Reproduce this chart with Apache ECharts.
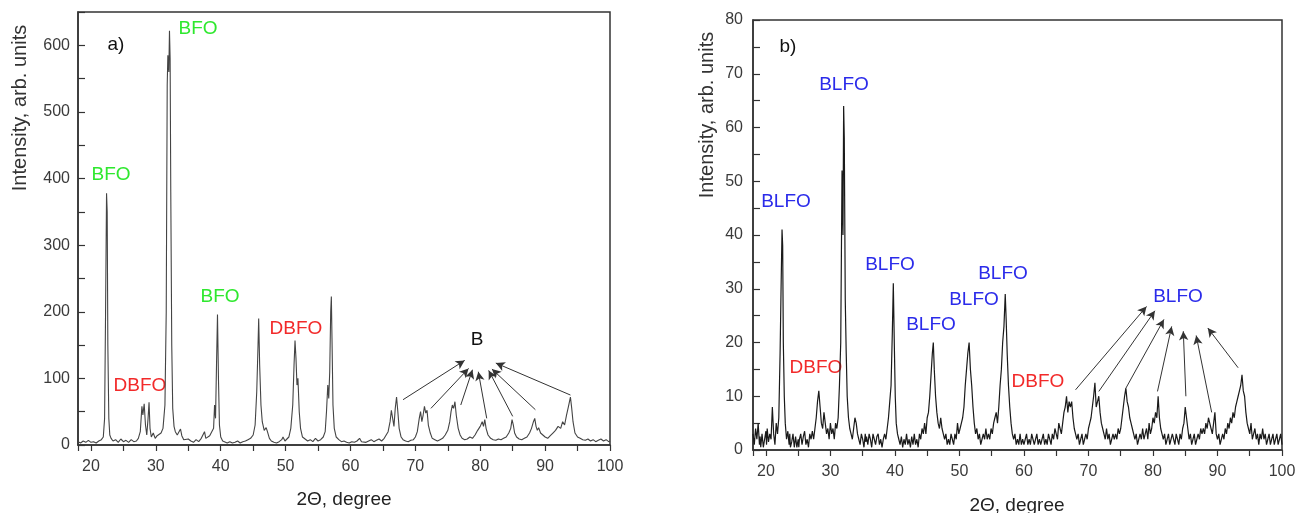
<!DOCTYPE html>
<html>
<head>
<meta charset="utf-8">
<script src="https://cdn.jsdelivr.net/npm/echarts@6/dist/echarts.min.js"></script>
<style>
html,body{margin:0;padding:0;background:#fff;}
#chart{width:1304px;height:513px;}
</style>
</head>
<body>
<div id="chart"></div>
<script>
// ---- Panel a) BFO pattern: [2theta, intensity]
const patternA = [
[18.0,5],[18.4,3],[18.8,6],[19.2,4],[19.6,7],[20.0,4],[20.4,5],[20.8,3],[21.2,6],[21.6,8],[21.9,12],[22.1,40],[22.25,200],[22.4,378],[22.5,350],[22.6,150],[22.75,40],[22.9,15],[23.1,10],[23.4,6],[23.8,8],[24.2,4],[24.6,9],[25.0,5],[25.4,7],[25.8,4],[26.2,8],[26.6,5],[27.0,6],[27.3,10],[27.6,20],[27.85,58],[28.0,45],[28.2,62],[28.4,30],[28.6,15],[28.8,40],[28.95,64],[29.1,25],[29.3,12],[29.6,18],[29.9,10],[30.2,14],[30.5,12],[30.8,18],[31.1,25],[31.4,60],[31.6,200],[31.75,540],[31.85,585],[32.0,560],[32.1,622],[32.2,580],[32.3,380],[32.45,150],[32.6,55],[32.8,28],[33.0,20],[33.3,15],[33.6,12],[33.8,24],[34.0,14],[34.3,8],[34.6,5],[35.0,9],[35.4,6],[35.8,4],[36.2,8],[36.6,5],[37.0,10],[37.3,7],[37.5,20],[37.7,10],[38.0,8],[38.3,14],[38.6,12],[38.9,25],[39.05,60],[39.2,40],[39.35,120],[39.5,196],[39.65,100],[39.8,30],[40.0,12],[40.3,6],[40.6,4],[41.0,3],[41.4,5],[41.8,3],[42.2,4],[42.6,6],[43.0,3],[43.4,5],[43.8,6],[44.2,8],[44.6,10],[45.0,15],[45.3,30],[45.55,80],[45.75,150],[45.85,190],[46.0,120],[46.2,60],[46.4,35],[46.7,22],[47.0,26],[47.2,20],[47.5,10],[47.8,6],[48.2,4],[48.6,3],[49.0,5],[49.4,8],[49.6,12],[49.9,6],[50.2,8],[50.5,12],[50.8,25],[51.1,60],[51.3,120],[51.45,157],[51.6,130],[51.75,90],[51.9,100],[52.1,50],[52.3,25],[52.6,12],[53.0,9],[53.4,6],[53.8,8],[54.2,5],[54.6,10],[55.0,6],[55.4,8],[55.8,12],[56.1,20],[56.3,50],[56.5,90],[56.65,70],[56.8,110],[56.95,200],[57.05,223],[57.15,160],[57.3,60],[57.5,25],[57.8,12],[58.2,8],[58.6,5],[59.0,6],[59.4,4],[59.8,3],[60.2,5],[60.6,4],[61.0,6],[61.4,10],[61.7,5],[62.0,7],[62.4,4],[62.8,6],[63.2,8],[63.6,5],[64.0,7],[64.4,9],[64.8,6],[65.2,10],[65.5,12],[65.8,20],[66.1,35],[66.3,52],[66.5,40],[66.7,28],[66.9,55],[67.1,72],[67.3,50],[67.5,25],[67.8,12],[68.1,8],[68.5,6],[68.9,5],[69.3,7],[69.7,8],[70.0,12],[70.3,20],[70.6,40],[70.8,50],[71.0,35],[71.2,45],[71.4,58],[71.6,48],[71.8,52],[72.0,30],[72.3,18],[72.6,10],[73.0,8],[73.4,6],[73.8,8],[74.2,10],[74.6,15],[75.0,22],[75.3,35],[75.5,50],[75.7,60],[75.9,55],[76.1,65],[76.3,45],[76.6,25],[76.9,15],[77.2,10],[77.6,8],[78.0,9],[78.4,12],[78.8,10],[79.2,15],[79.6,22],[80.0,28],[80.3,35],[80.5,28],[80.7,38],[80.9,25],[81.2,15],[81.6,10],[82.0,8],[82.4,7],[82.8,9],[83.2,8],[83.6,10],[84.0,12],[84.4,18],[84.7,25],[84.9,38],[85.1,30],[85.3,18],[85.6,12],[86.0,9],[86.4,8],[86.8,10],[87.2,12],[87.6,18],[87.9,25],[88.2,35],[88.4,40],[88.6,28],[88.8,22],[89.0,26],[89.3,18],[89.6,15],[90.0,12],[90.4,10],[90.8,14],[91.2,18],[91.6,22],[92.0,28],[92.4,25],[92.7,35],[93.0,30],[93.3,45],[93.6,58],[93.9,72],[94.1,55],[94.3,35],[94.6,18],[95.0,12],[95.4,10],[95.8,8],[96.2,7],[96.6,9],[97.0,6],[97.4,8],[97.8,5],[98.2,7],[98.6,9],[99.0,6],[99.4,8],[99.8,5],[100,6]
];

// ---- Panel b) BLFO pattern: [2theta, intensity]
const patternB = [
[18.0,3],[18.2,1],[18.4,4],[18.6,2],[18.8,5],[19.0,1],[19.1,2.5],[19.2,0.5],[19.4,3],[19.6,0.5],[19.8,2],[20.0,3.5],[20.1,1],[20.2,4],[20.4,1.5],[20.6,3],[20.8,2],[21.0,8],[21.2,3],[21.4,1],[21.6,5],[21.8,3],[22.0,6],[22.2,18],[22.35,30],[22.5,41],[22.6,38],[22.7,20],[22.85,10],[23.0,5],[23.2,2],[23.4,3.5],[23.6,1],[23.7,3],[23.8,0.5],[24.0,1.5],[24.2,3],[24.4,0.5],[24.6,2.5],[24.8,0.5],[25.0,2],[25.1,0.5],[25.2,2],[25.4,3],[25.6,1],[25.8,2.5],[26.0,3.5],[26.2,1],[26.4,2],[26.6,0.5],[26.8,3],[27.0,2],[27.2,3.5],[27.4,2],[27.6,4],[27.8,6],[28.0,9],[28.2,11],[28.4,8],[28.6,5],[28.8,4],[29.0,7],[29.2,5],[29.4,3],[29.6,4],[29.8,2],[30.0,5],[30.2,3],[30.4,4],[30.6,2],[30.8,5],[31.0,4],[31.2,6],[31.4,12],[31.6,20],[31.8,52],[31.95,40],[32.05,64],[32.15,58],[32.3,28],[32.45,18],[32.6,10],[32.8,6],[33.0,4],[33.2,3],[33.4,2],[33.6,4],[33.8,6],[34.0,5],[34.2,3],[34.4,2],[34.6,1],[34.8,3],[35.0,2],[35.2,0.5],[35.4,3],[35.5,1.5],[35.6,2.5],[35.8,1],[36.0,3],[36.2,2],[36.4,0.5],[36.6,3],[36.8,2],[37.0,1],[37.2,2.5],[37.4,3],[37.6,1],[37.8,2],[38.0,0.5],[38.2,2],[38.4,3],[38.6,2],[38.8,4],[39.0,6],[39.2,9],[39.4,12],[39.6,22],[39.75,31],[39.9,20],[40.05,10],[40.2,5],[40.4,3],[40.6,2],[40.8,1],[41.0,2.5],[41.2,0.5],[41.4,2],[41.6,1],[41.8,3],[42.0,1],[42.2,2],[42.4,0.5],[42.6,2.5],[42.8,1],[43.0,3],[43.2,1],[43.4,2],[43.6,0.5],[43.8,3],[44.0,2],[44.2,4],[44.4,3],[44.6,5],[44.8,3],[45.0,6],[45.2,7],[45.4,10],[45.6,14],[45.8,18],[45.95,20],[46.1,15],[46.3,10],[46.5,7],[46.7,5],[46.9,4],[47.1,6],[47.3,4],[47.5,3],[47.7,2],[47.9,3],[48.1,1],[48.3,2],[48.5,1],[48.7,3],[48.9,2],[49.1,1],[49.3,3],[49.5,2],[49.7,5],[49.9,3],[50.1,4],[50.3,5],[50.5,6],[50.7,8],[50.9,12],[51.1,15],[51.3,18],[51.5,20],[51.7,15],[51.9,12],[52.1,8],[52.3,5],[52.5,3],[52.7,4],[52.9,2],[53.1,3],[53.3,1],[53.5,2],[53.7,3],[53.9,2],[54.1,4],[54.3,2],[54.5,3],[54.7,2],[54.9,4],[55.1,3],[55.3,5],[55.5,6],[55.7,7],[55.9,5],[56.1,8],[56.3,12],[56.5,15],[56.7,20],[56.9,23],[57.1,29],[57.25,24],[57.4,18],[57.6,12],[57.8,8],[58.0,5],[58.2,3],[58.4,2],[58.6,3],[58.8,1],[59.0,2],[59.2,1],[59.4,3],[59.6,1],[59.8,2],[60.0,1],[60.2,2],[60.4,3],[60.6,1],[60.8,2],[61.0,1],[61.2,3],[61.4,2],[61.6,1],[61.8,2],[62.0,3],[62.2,1],[62.4,2],[62.6,1],[62.8,2],[63.0,3],[63.2,1],[63.4,2],[63.6,1],[63.8,3],[64.0,2],[64.2,1],[64.4,3],[64.6,2],[64.8,4],[65.0,3],[65.2,2],[65.4,5],[65.6,4],[65.8,3],[66.0,5],[66.2,7],[66.4,8],[66.6,10],[66.8,7],[67.0,9],[67.2,8],[67.4,9],[67.6,6],[67.8,4],[68.0,3],[68.2,2],[68.4,3],[68.6,1],[68.8,2],[69.0,3],[69.2,1],[69.4,2],[69.6,3],[69.8,2],[70.0,4],[70.2,5],[70.4,6],[70.6,8],[70.8,10],[71.0,12.5],[71.2,8],[71.4,9],[71.6,10],[71.8,7],[72.0,5],[72.2,4],[72.4,3],[72.6,2],[72.8,4],[73.0,2],[73.2,3],[73.4,1],[73.6,2],[73.8,3],[74.0,2],[74.2,3],[74.4,2],[74.6,4],[74.8,3],[75.0,4],[75.2,6],[75.4,8],[75.6,10],[75.8,11.5],[76.0,9],[76.2,8],[76.4,6],[76.6,5],[76.8,4],[77.0,3],[77.2,2],[77.4,3],[77.6,1],[77.8,2],[78.0,3],[78.2,2],[78.4,4],[78.6,2],[78.8,3],[79.0,4],[79.2,2],[79.4,5],[79.6,3],[79.8,4],[80.0,6],[80.2,5],[80.4,7],[80.6,6],[80.8,10],[81.0,6],[81.2,4],[81.4,3],[81.6,2],[81.8,3],[82.0,1],[82.2,2],[82.4,3],[82.6,1],[82.8,2],[83.0,3],[83.2,2],[83.4,1],[83.6,3],[83.8,2],[84.0,1],[84.2,3],[84.4,2],[84.6,4],[84.8,5],[85.0,8],[85.2,6],[85.4,4],[85.6,2],[85.8,3],[86.0,1],[86.2,2],[86.4,3],[86.6,1],[86.8,2],[87.0,3],[87.2,2],[87.4,4],[87.6,3],[87.8,4],[88.0,3],[88.2,5],[88.4,4],[88.6,6],[88.8,5],[89.0,4],[89.2,3],[89.4,5],[89.6,7],[89.8,3],[90.0,2],[90.2,3],[90.4,1],[90.6,2],[90.8,3],[91.0,2],[91.2,4],[91.4,3],[91.6,5],[91.8,4],[92.0,6],[92.2,5],[92.4,7],[92.6,6],[92.8,8],[93.0,9],[93.2,10],[93.4,11],[93.6,12],[93.8,14],[94.0,11],[94.2,10],[94.4,7],[94.6,5],[94.8,4],[95.0,3],[95.2,5],[95.4,2],[95.6,3],[95.8,4],[96.0,2],[96.2,3],[96.4,1],[96.6,3],[96.8,2],[97.0,4],[97.2,2],[97.4,3],[97.6,1],[97.8,2],[98.0,3],[98.2,1],[98.4,2],[98.6,3],[98.8,1],[99.0,2],[99.2,3],[99.4,1],[99.6,2],[99.8,3],[100,1]
];

// ---- Axis ranges
const xRange = [18, 100];
const yRangeA = [0, 650];
const yRangeB = [0, 80];

// ---- Arrow annotations (data coords): [x1,y1,x2,y2]
const arrowsA = [[68.1,68,77.6,127],[72.4,55,78.2,115],[77.0,60,78.8,113],[81.0,40,79.7,110],[85.0,43,81.3,112],[88.5,53,81.8,114],[93.9,75,82.4,123]];
const arrowsB = [[68.0,11.2,79.0,26.7],[71.6,10.9,80.3,25.9],[75.8,11.5,81.7,24.3],[80.7,10.9,82.9,23.0],[85.1,10.0,84.7,22.1],[89.1,7.0,86.7,21.3],[93.2,15.3,88.5,22.7]];

// ---- Text labels: [text, px, py, color]
const labelsA = [["a)",116,45,"#111"],["BFO",198,29,"#2ee82e"],["BFO",111,175,"#2ee82e"],["DBFO",140,386,"#f22a2a"],["BFO",220,297,"#2ee82e"],["DBFO",296,329,"#f22a2a"],["B",477,340,"#111"]];
const labelsB = [["b)",788,47,"#111"],["BLFO",844,85,"#2b2bea"],["BLFO",786,202,"#2b2bea"],["DBFO",816,368,"#f22a2a"],["BLFO",890,265,"#2b2bea"],["BLFO",931,325,"#2b2bea"],["BLFO",974,300,"#2b2bea"],["BLFO",1003,274,"#2b2bea"],["DBFO",1038,382,"#f22a2a"],["BLFO",1178,297,"#2b2bea"]];

const FONT = "'Liberation Sans', Arial, sans-serif";
const chart = echarts.init(document.getElementById('chart'), null, {renderer:'canvas'});

function xAxisCfg(gi){
  return {
    gridIndex: gi, type:'value', min:xRange[0], max:xRange[1], splitNumber:16,
    axisLine:{show:true, onZero:false, lineStyle:{color:'#333', width:1.5}},
    axisTick:{show:true, inside:false, length:6, lineStyle:{color:'#333', width:1.2}},
    splitLine:{show:false},
    axisLabel:{show:true, margin:14, color:'#3a3a3a', fontSize:16, fontFamily:FONT,
      formatter: v => (Math.abs(v % 10) < 1e-9 ? String(v) : '')}
  };
}
function yAxisCfg(gi, range, step, labelStep, margin){
  return {
    gridIndex: gi, type:'value', min:range[0], max:range[1], interval:step,
    axisLine:{show:true, lineStyle:{color:'#333', width:1.5}},
    axisTick:{show:true, inside:true, length:7, lineStyle:{color:'#333', width:1.2}},
    splitLine:{show:false},
    axisLabel:{show:true, margin:margin, color:'#3a3a3a', fontSize:16, fontFamily:FONT,
      formatter: v => (Math.abs(v % labelStep) < 1e-9 ? String(v) : '')}
  };
}
function arrowData(list){
  return list.map(a => [{coord:[a[0],a[1]]},{coord:[a[2],a[3]]}]);
}
function textGraphics(list){
  return list.map(l => ({type:'text', x:l[1], y:l[2], silent:true,
    style:{text:l[0], fill:l[3], font:'19px ' + FONT, textAlign:'center', textVerticalAlign:'middle'}}));
}

const option = {
  animation:false,
  backgroundColor:'#fff',
  grid:[
    {left:78, top:12, width:532, height:433, show:true, borderColor:'#333', borderWidth:1.5, containLabel:false},
    {left:753, top:20, width:529, height:430, show:true, borderColor:'#333', borderWidth:1.5, containLabel:false}
  ],
  xAxis:[xAxisCfg(0), xAxisCfg(1)],
  yAxis:[yAxisCfg(0, yRangeA, 50, 100, 8), yAxisCfg(1, yRangeB, 5, 10, 10)],
  series:[
    {type:'line', xAxisIndex:0, yAxisIndex:0, data:patternA, showSymbol:false, symbol:'none', sampling:null,
     lineStyle:{color:'#444', width:1.1}, silent:true,
     markLine:{silent:true, symbol:['none','arrow'], symbolSize:[7,9], label:{show:false},
       lineStyle:{color:'#333', width:1, type:'solid'}, data:arrowData(arrowsA)}},
    {type:'line', xAxisIndex:1, yAxisIndex:1, data:patternB, showSymbol:false, symbol:'none', sampling:null,
     lineStyle:{color:'#1a1a1a', width:1.2}, silent:true,
     markLine:{silent:true, symbol:['none','arrow'], symbolSize:[7,9], label:{show:false},
       lineStyle:{color:'#333', width:1, type:'solid'}, data:arrowData(arrowsB)}}
  ],
  graphic:[
    {type:'text', x:20, y:108, rotation:Math.PI/2, silent:true,
     style:{text:'Intensity, arb. units', fill:'#333', font:'20px ' + FONT, textAlign:'center', textVerticalAlign:'middle'}},
    {type:'text', x:707, y:115, rotation:Math.PI/2, silent:true,
     style:{text:'Intensity, arb. units', fill:'#333', font:'20px ' + FONT, textAlign:'center', textVerticalAlign:'middle'}},
    {type:'text', x:344, y:500, silent:true,
     style:{text:'2\u0398, degree', fill:'#222', font:'19px ' + FONT, textAlign:'center', textVerticalAlign:'middle'}},
    {type:'text', x:1017, y:506, silent:true,
     style:{text:'2\u0398, degree', fill:'#222', font:'19px ' + FONT, textAlign:'center', textVerticalAlign:'middle'}}
  ].concat(textGraphics(labelsA)).concat(textGraphics(labelsB))
};
chart.setOption(option);
</script>
</body>
</html>
